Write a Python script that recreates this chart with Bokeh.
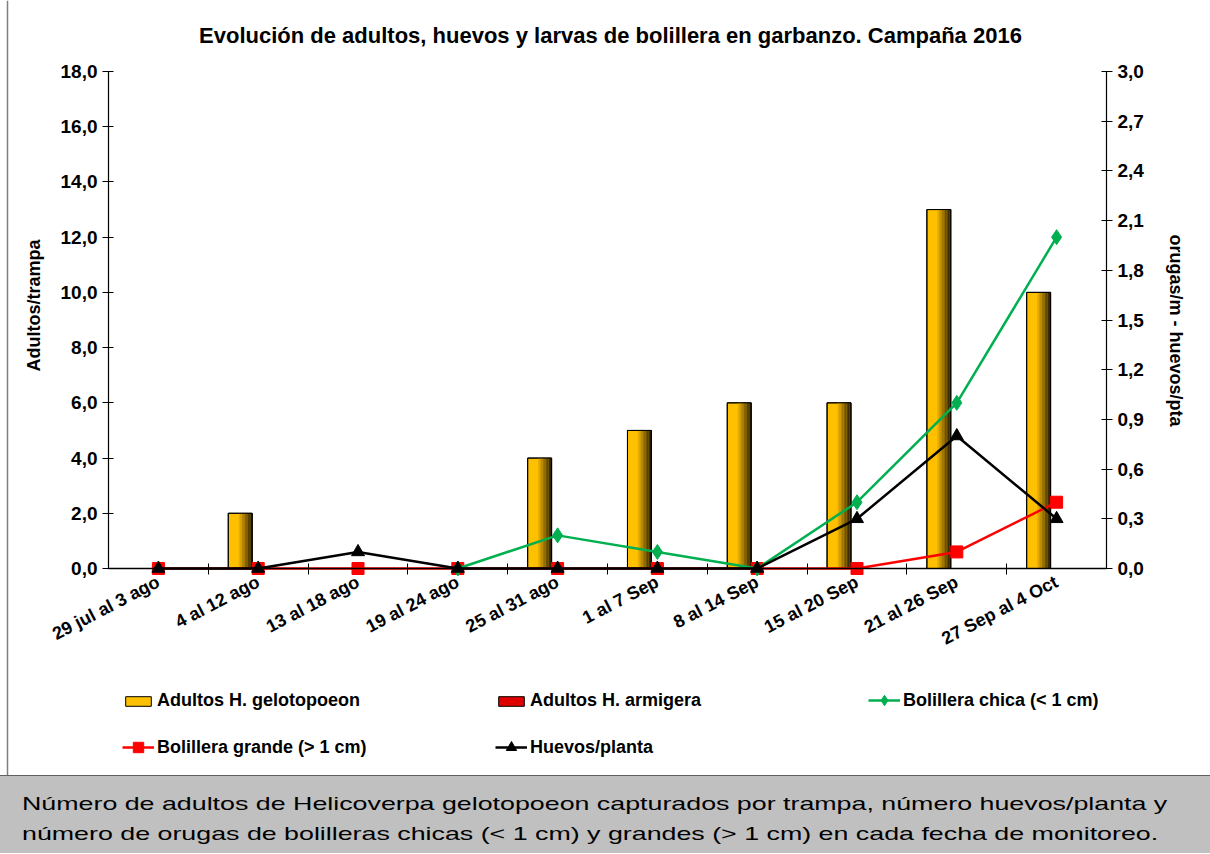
import math
from bokeh.plotting import figure
from bokeh.models import (Range1d, LinearAxis, FixedTicker, CustomJSTickFormatter,
                          Legend, LegendItem, Div, Label, Span)
from bokeh.layouts import column
from bokeh.embed import file_html
from bokeh.resources import INLINE

nan = float("nan")

categories = ["29 jul al 3 ago", "4 al 12 ago", "13 al 18 ago", "19 al 24 ago",
              "25 al 31 ago", "1 al 7 Sep", "8 al 14 Sep", "15 al 20 Sep",
              "21 al 26 Sep", "27 Sep al 4 Oct"]
adultos_gelotopoeon = [0, 2, 0, 0, 4, 5, 6, 6, 13, 10]
adultos_armigera = [0, 0, 0, 0, 0, 0, 0, 0, 0, 0]
bolillera_chica = [nan, nan, nan, 0.0, 0.2, 0.1, 0.0, 0.4, 1.0, 2.0]
bolillera_grande = [0.0, 0.0, 0.0, 0.0, 0.0, 0.0, 0.0, 0.0, 0.1, 0.4]
huevos_planta = [0.0, 0.0, 0.1, 0.0, 0.0, 0.0, 0.0, 0.3, 0.8, 0.3]
left_ticks = [0, 2, 4, 6, 8, 10, 12, 14, 16, 18]
right_ticks = [0.0, 0.3, 0.6, 0.9, 1.2, 1.5, 1.8, 2.1, 2.4, 2.7, 3.0]

title = "Evolución de adultos, huevos y larvas de bolillera en garbanzo. Campaña 2016"
caption = ["Número de adultos de Helicoverpa gelotopoeon capturados por trampa,  número huevos/planta y",
           "número de orugas de bolilleras chicas (&lt; 1 cm) y grandes (&gt; 1 cm) en cada fecha de monitoreo."]

FONT = "Liberation Sans"
n = len(categories)
pos = [i + 0.5 for i in range(n)]

# ---- layout geometry (pixels): the frame fills the whole canvas ----
W, H = 1210, 775
AX_L, AX_R = 108, 1106      # pixel x of left / right value axes
AX_T, AX_B = 71, 568        # pixel y of top (18) / zero line
LMAX_V, RMAX_V = 18, 3
sx = (AX_R - AX_L) / n
sy = (AX_B - AX_T) / LMAX_V
XMIN, XMAX = -AX_L / sx, n + (W - AX_R) / sx
LMIN, LMAX = -(H - AX_B) / sy, LMAX_V + AX_T / sy
RF = LMAX_V / RMAX_V


def dx(px):
    return (px - AX_L) / sx


def dy(py):
    return (AX_B - py) / sy


p = figure(width=W, height=H, x_range=Range1d(XMIN, XMAX), y_range=Range1d(LMIN, LMAX),
           output_backend="svg", toolbar_location=None, min_border=0,
           min_border_left=0, min_border_right=0, min_border_top=0, min_border_bottom=0,
           x_axis_location=None, y_axis_location=None)
p.extra_y_ranges = {"r": Range1d(LMIN / RF, LMAX / RF)}
p.grid.visible = False
p.outline_line_color = None
p.background_fill_color = "white"
p.border_fill_color = "white"

fmt = CustomJSTickFormatter(code="return tick.toFixed(1).replace('.', ',');")

ya = LinearAxis(fixed_location=0, ticker=FixedTicker(ticks=left_ticks), formatter=fmt,
                bounds=(0, LMAX_V))
ra = LinearAxis(fixed_location=n, y_range_name="r", ticker=FixedTicker(ticks=right_ticks),
                formatter=fmt, bounds=(0, RMAX_V))
for ax in [ya, ra]:
    ax.axis_line_color = "black"
    ax.axis_line_width = 1.2
    ax.major_tick_in = 5
    ax.major_tick_out = 6
    ax.major_tick_line_color = "black"
    ax.minor_tick_line_color = None
    ax.major_label_text_font = FONT
    ax.major_label_text_font_style = "bold"
    ax.major_label_text_font_size = "19px"
    ax.major_label_text_color = "black"
    ax.major_label_standoff = 5
p.add_layout(ya, "left")
p.add_layout(ra, "right")

xa = LinearAxis(fixed_location=0, bounds=(0, n),
                ticker=FixedTicker(ticks=pos, minor_ticks=list(range(1, n))),
                formatter=CustomJSTickFormatter(args=dict(cats=categories),
                                                code="return cats[Math.floor(tick)];"))
xa.major_tick_line_color = None
xa.minor_tick_line_color = "black"
xa.minor_tick_in = 5
xa.minor_tick_out = 6
xa.axis_line_color = "black"
xa.axis_line_width = 1.5
xa.major_label_orientation = 0.48
xa.major_label_text_font = FONT
xa.major_label_text_font_style = "bold"
xa.major_label_text_font_size = "18px"
xa.major_label_text_color = "black"
xa.major_label_standoff = 6
p.add_layout(xa, "below")

# title and axis titles
p.add_layout(Label(x=dx(610), y=dy(35), text=title, text_align="center",
                   text_baseline="middle", text_font=FONT, text_font_size="22px",
                   text_font_style="bold", text_color="black"))
p.add_layout(Label(x=dx(33), y=dy(305), text="Adultos/trampa", angle=math.pi / 2,
                   text_align="center", text_baseline="middle", text_font=FONT,
                   text_font_size="18px", text_font_style="bold", text_color="black"))
p.add_layout(Label(x=dx(1175), y=dy(330), text="orugas/m - huevos/pta", angle=-math.pi / 2,
                   text_align="center", text_baseline="middle", text_font=FONT,
                   text_font_size="18px", text_font_style="bold", text_color="black"))
# chart box left edge
p.add_layout(Span(location=dx(7), dimension="height", line_color="#808080", line_width=1.5))

# gradient bars (gelotopoeon)
bw = 0.24
boff = -0.18
nstrip = 16
sw = bw / nstrip
gold = (255, 192, 0)
dark = (15, 10, 0)
base = p.vbar(x=[x + boff for x in pos], top=adultos_gelotopoeon, width=bw,
              fill_color="#FFC000", line_color="black", line_width=1)
for j in range(7, nstrip):
    t = (j - 6) / (nstrip - 6)
    col = tuple(int(gold[k] * (1 - t) + dark[k] * t) for k in range(3))
    colhex = "#%02x%02x%02x" % col
    p.vbar(x=[x + boff - bw / 2 + (j + 0.5) * sw for x in pos], top=adultos_gelotopoeon,
           width=sw * 1.05, fill_color=colhex, line_color=None)
p.vbar(x=[x + boff for x in pos], top=adultos_gelotopoeon, width=bw,
       fill_color=None, line_color="black", line_width=1)

arm = p.vbar(x=[x + 0.06 for x in pos], top=adultos_armigera, width=bw,
             fill_color="#E00000", line_color="black", line_width=1)

rl = p.line(pos, bolillera_grande, y_range_name="r", line_color="#FF0000", line_width=2.5)
rs = p.scatter(pos, bolillera_grande, y_range_name="r", marker="square", size=12,
               fill_color="#FF0000", line_color="#FF0000")
gl = p.line(pos, bolillera_chica, y_range_name="r", line_color="#00B050", line_width=2.5)
gs = p.scatter(pos, bolillera_chica, y_range_name="r", marker="diamond", size=15,
               fill_color="#00B050", line_color="#00B050")
kl = p.line(pos, huevos_planta, y_range_name="r", line_color="black", line_width=2.5)
ks = p.scatter(pos, huevos_planta, y_range_name="r", marker="triangle", size=13,
               fill_color="black", line_color="black")


def add_leg(label, renderers, px, py_center, gh):
    # px: left pixel of swatch; py_center: pixel y of row centre
    h = max(gh, 22)
    leg = Legend(items=[LegendItem(label=label, renderers=renderers)],
                 location=(px, H - py_center - h / 2),
                 orientation="horizontal", padding=0, margin=0, spacing=0,
                 glyph_width=32, glyph_height=gh, label_height=12, label_standoff=3,
                 label_text_font=FONT, label_text_font_style="bold",
                 label_text_font_size="18px", label_text_color="black",
                 border_line_color=None, background_fill_alpha=0)
    p.add_layout(leg)


add_leg("Adultos H. gelotopoeon", [base], 122, 700, 12)
add_leg("Adultos H. armigera", [arm], 495, 700, 12)
add_leg("Bolillera chica (< 1 cm)", [gl, gs], 868, 700, 26)
add_leg("Bolillera grande (> 1 cm)", [rl, rs], 122, 747, 26)
add_leg("Huevos/planta", [kl, ks], 495, 747, 26)

cap_html = ('<div style="padding:13px 0 0 22px;">'
            '<div style="font-family:\'Liberation Sans\',Arial,sans-serif;font-size:19px;'
            'line-height:30px;white-space:nowrap;transform:scaleX(1.41);'
            'transform-origin:0 0;color:black;">'
            + caption[0] + '<br>' + caption[1] + '</div></div>')
cap = Div(text=cap_html, width=W, height=78, margin=0,
          styles={"background-color": "#C0C0C0", "border-top": "1px solid #606060"})

layout = column(p, cap, spacing=0)
open("out.html", "w").write(file_html(layout, INLINE))
